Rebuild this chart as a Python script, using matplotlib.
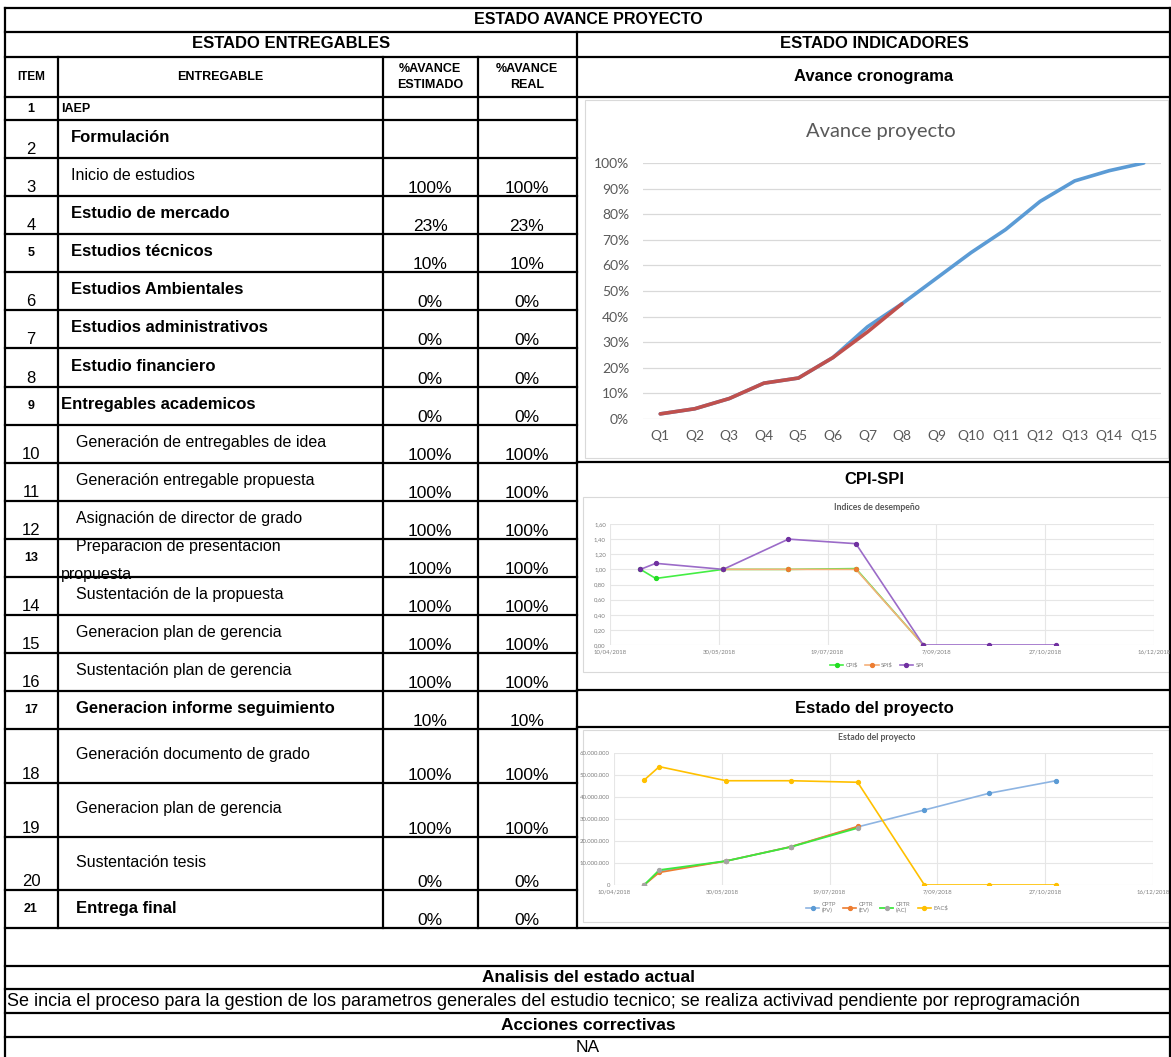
import numpy as np
import pandas as pd
import matplotlib
matplotlib.use("Agg")
import matplotlib.pyplot as plt
from matplotlib.ticker import FuncFormatter, PercentFormatter, MultipleLocator
from matplotlib.patches import Rectangle

# ---------------- data ----------------
item_nums = list(range(1, 22))
entregables = ["IAEP", "Formulación", "Inicio de estudios", "Estudio de mercado",
               "Estudios técnicos", "Estudios Ambientales", "Estudios administrativos",
               "Estudio financiero", "Entregables academicos",
               "Generación de entregables de idea", "Generación entregable propuesta",
               "Asignación de director de grado", "Preparacion de presentacion\npropuesta",
               "Sustentación de la propuesta", "Generacion plan de gerencia",
               "Sustentación plan de gerencia", "Generacion informe seguimiento",
               "Generación documento de grado", "Generacion plan de gerencia",
               "Sustentación tesis", "Entrega final"]
avance_estimado = [None, None, 100, 23, 10, 0, 0, 0, 0, 100, 100, 100, 100, 100,
                   100, 100, 10, 100, 100, 0, 0]
avance_real = [None, None, 100, 23, 10, 0, 0, 0, 0, 100, 100, 100, 100, 100,
               100, 100, 10, 100, 100, 0, 0]

# Avance proyecto (%)
quincenas = [f"Q{i}" for i in range(1, 16)]
avance_plan = [2, 4, 8, 14, 16, 24, 36, 45, 55, 65, 74, 85, 93, 97, 100]
avance_ejec = [2, 4, 8, 14, 16, 24, 34, 45]

# Indices de desempeño
fechas = pd.to_datetime(["2018-04-24", "2018-05-01", "2018-06-01", "2018-07-01",
                         "2018-08-01", "2018-09-01", "2018-10-01", "2018-11-01"])
cpi_s = [1.00, 0.88, 1.00, 1.00, 1.01, 0.00]
spi_s = [np.nan, np.nan, 1.00, 1.00, 1.00, 0.00]
spi = [1.00, 1.08, 1.00, 1.40, 1.34, 0.00, 0.00, 0.00]

# Estado del proyecto
cptp_pv = [0, 6.3e6, 10.9e6, 17.4e6, 26.4e6, 34.1e6, 41.7e6, 47.4e6]
cptr_ev = [0, 5.7e6, 10.9e6, 17.4e6, 26.6e6]
crtr_ac = [0, 6.8e6, 10.9e6, 17.3e6, 25.9e6]
eac = [47.7e6, 53.8e6, 47.4e6, 47.4e6, 46.7e6, 0, 0, 0]

analisis = ("Se incia el proceso para la gestion de los parametros generales del estudio "
            "tecnico; se realiza activivad pendiente por reprogramación")

# ---------------- layout (pixels) ----------------
W, H = 1171, 1057
row_edges = [97, 120, 158, 196, 234, 272, 310, 348, 387, 425, 463, 501, 539, 577,
             615, 653, 691, 729, 783, 837, 890, 928]
col_x = [5, 58, 383, 478, 577]
bold_rows = {1, 2, 4, 5, 6, 7, 8, 9, 17, 21}
small_nums = {1, 5, 9, 13, 17, 21}

plt.rcParams["font.family"] = ["Liberation Sans", "DejaVu Sans"]
fig = plt.figure(figsize=(W / 100, H / 100), dpi=100)
bg = fig.add_axes([0, 0, 1, 1])
bg.set_xlim(0, W)
bg.set_ylim(H, 0)
bg.axis("off")


def hline(y, x0, x1):
    bg.plot([x0, x1], [y, y], color="black", lw=1.6, solid_capstyle="projecting")


def vline(x, y0, y1):
    bg.plot([x, x], [y0, y1], color="black", lw=1.6, solid_capstyle="projecting")


for y in [8, 32, 57, 97, 928, 966, 989, 1013, 1037]:
    hline(y, 5, 1170)
for y in row_edges[1:-1]:
    hline(y, 5, 577)
for y in [462, 690, 727]:
    hline(y, 577, 1170)
vline(5, 8, 1057)
vline(1170, 8, 1057)
vline(577, 32, 928)
for x in col_x[1:4]:
    vline(x, 57, 928)

# headers
hdr = dict(ha="center", va="center", weight="bold")
bg.text(588, 20, "ESTADO AVANCE PROYECTO", fontsize=11.5, **hdr)
bg.text(291, 44, "ESTADO ENTREGABLES", fontsize=12, **hdr)
bg.text(874, 44, "ESTADO INDICADORES", fontsize=12, **hdr)
bg.text(31, 77, "ITEM", fontsize=8.5, **hdr)
bg.text(220, 77, "ENTREGABLE", fontsize=9, **hdr)
bg.text(430, 77, "%AVANCE\nESTIMADO", fontsize=9, linespacing=1.4, **hdr)
bg.text(527, 77, "%AVANCE\nREAL", fontsize=9, linespacing=1.4, **hdr)
bg.text(874, 77, "Avance cronograma", fontsize=12, **hdr)
bg.text(874, 480, "CPI-SPI", fontsize=12, **hdr)
bg.text(874, 709, "Estado del proyecto", fontsize=12, **hdr)

# rows
for i, n in enumerate(item_nums):
    top, bot = row_edges[i], row_edges[i + 1]
    mid = (top + bot) / 2
    if n in small_nums:
        bg.text(31, mid, str(n), ha="center", va="center", fontsize=9, weight="bold")
    else:
        bg.text(31, bot - 4, str(n), ha="center", va="baseline", fontsize=12)
    w = "bold" if n in bold_rows else "normal"
    fs = 12 if n in bold_rows else 11.5
    if n == 1:
        bg.text(61, mid, entregables[i], ha="left", va="center", fontsize=9, weight="bold")
    elif n == 13:
        l1, l2 = entregables[i].split("\n")
        bg.text(76, mid - 11, l1, ha="left", va="center", fontsize=11.5)
        t = bg.text(61, bot + 2, l2, ha="left", va="baseline", fontsize=11.5)
        clip = Rectangle((58, top), 325, bot - top - 1, transform=bg.transData)
        t.set_clip_path(clip)
    else:
        x = 61 if n == 9 else (71 if n <= 8 else 76)
        bg.text(x, mid - 1, entregables[i], ha="left", va="center", fontsize=fs, weight=w)
    if avance_estimado[i] is not None:
        bg.text(430, bot - 3, f"{avance_estimado[i]}%", ha="center", va="baseline", fontsize=12.5)
    if avance_real[i] is not None:
        bg.text(527, bot - 3, f"{avance_real[i]}%", ha="center", va="baseline", fontsize=12.5)

# bottom block
bg.text(588, 977, "Analisis del estado actual", fontsize=12.5, **hdr)
bg.text(7, 1001, analisis, ha="left", va="center", fontsize=13)
bg.text(588, 1025, "Acciones correctivas", fontsize=12.5, **hdr)
bg.text(588, 1047, "NA", ha="center", va="center", fontsize=12.5)

# chart frames
for (x0, y0, x1, y1) in [(585, 100, 1168, 458), (583, 497, 1170, 672), (583, 730, 1170, 922)]:
    bg.add_patch(Rectangle((x0, y0), x1 - x0, y1 - y0, fill=False, ec="#D9D9D9", lw=0.8))


def px_axes(l, t, r, b):
    return fig.add_axes([l / W, 1 - b / H, (r - l) / W, (b - t) / H])


def style(ax, size):
    for s in ax.spines.values():
        s.set_visible(False)
    ax.set_facecolor("none")
    ax.tick_params(length=0, labelsize=size, colors="#7F7F7F")
    for lab in ax.get_xticklabels() + ax.get_yticklabels():
        lab.set_family("Lato")


gray = "#595959"

# ---- chart 1: Avance proyecto ----
ax1 = px_axes(643, 163, 1161, 419)
xq = np.arange(len(quincenas))
ax1.plot(xq, avance_plan, color="#5B9BD5", lw=2.6, solid_capstyle="round")
ax1.plot(xq[:len(avance_ejec)], avance_ejec, color="#C0504D", lw=2.6, solid_capstyle="round")
ax1.set_xlim(-0.5, len(quincenas) - 0.5)
ax1.set_ylim(0, 100)
ax1.set_xticks(xq)
ax1.set_xticklabels(quincenas)
ax1.yaxis.set_major_locator(MultipleLocator(10))
ax1.yaxis.set_major_formatter(PercentFormatter(xmax=100, decimals=0))
ax1.grid(axis="y", color="#D9D9D9", lw=0.9)
ax1.set_axisbelow(True)
style(ax1, 10)
ax1.tick_params(colors=gray)
ax1.tick_params(axis="y", pad=10)
ax1.tick_params(axis="x", pad=8)
bg.text(881, 132, "Avance proyecto", ha="center", va="center", fontsize=14.5, color=gray,
        family="Lato")

# date axis helpers
x_min = pd.Timestamp("2018-04-10")
x_max = pd.Timestamp("2018-12-16")
date_ticks = pd.date_range(x_min, x_max, freq="50D")


def date_axis(ax):
    ax.set_xlim(x_min, x_max)
    ax.set_xticks(date_ticks)
    ax.set_xticklabels([f"{d.day}/{d.month:02d}/{d.year}" for d in date_ticks])
    ax.grid(color="#E6E6E6", lw=0.8)
    ax.set_axisbelow(True)


# ---- chart 2: Indices de desempeño ----
ax2 = px_axes(610, 524, 1154, 645)
ax2.plot(fechas[:len(cpi_s)], cpi_s, color="#44EE44", lw=1.2, marker="o", ms=2.8,
         mfc="#22DD22", mec="#22DD22", label="CPI$")
ax2.plot(fechas[:len(spi_s)], spi_s, color="#F5B07A", lw=1.2, marker="o", ms=2.8,
         mfc="#ED7D31", mec="#ED7D31", label="SPI$")
ax2.plot(fechas, spi, color="#9B6BC8", lw=1.2, marker="o", ms=2.8,
         mfc="#7030A0", mec="#7030A0", label="SPI")
ax2.set_ylim(0, 1.6)
ax2.yaxis.set_major_locator(MultipleLocator(0.2))
ax2.yaxis.set_major_formatter(FuncFormatter(lambda v, p: f"{v:.2f}".replace(".", ",")))
date_axis(ax2)
style(ax2, 4.3)
ax2.tick_params(pad=3)
bg.text(877, 508, "Indices de desempeño", ha="center", va="center", fontsize=6.3,
        color=gray, family="Lato", weight="bold")
fig.legend(*ax2.get_legend_handles_labels(), loc="center", ncol=3,
           bbox_to_anchor=(877 / W, 1 - 665 / H), frameon=False,
           prop={"family": "Lato", "size": 4.3}, labelcolor="#7F7F7F",
           handlelength=2.2, columnspacing=1.2, handletextpad=0.4)

# ---- chart 3: Estado del proyecto ----
ax3 = px_axes(614, 753, 1153, 885)
ax3.plot(fechas, cptp_pv, color="#8DB4E2", lw=1.2, marker="o", ms=2.8,
         mfc="#5B9BD5", mec="#5B9BD5", label="CPTP\n(PV)")
ax3.plot(fechas[:len(cptr_ev)], cptr_ev, color="#ED7D31", lw=1.2, marker="o", ms=2.8,
         mfc="#ED7D31", mec="#ED7D31", label="CPTR\n(EV)")
ax3.plot(fechas[:len(crtr_ac)], crtr_ac, color="#3DE83D", lw=1.3, marker="o", ms=2.8,
         mfc="#A5A5A5", mec="#A5A5A5", label="CRTR\n(AC)")
ax3.plot(fechas, eac, color="#FFC000", lw=1.2, marker="o", ms=2.8,
         mfc="#FFC000", mec="#FFC000", label="EAC$")
ax3.set_ylim(0, 60e6)
ax3.yaxis.set_major_locator(MultipleLocator(10e6))
ax3.yaxis.set_major_formatter(FuncFormatter(
    lambda v, p: "0" if v == 0 else f"{int(v):,}".replace(",", ".")))
date_axis(ax3)
style(ax3, 4.3)
ax3.tick_params(pad=3)
bg.text(877, 737, "Estado del proyecto", ha="center", va="center", fontsize=6.3,
        color=gray, family="Lato", weight="bold")
fig.legend(*ax3.get_legend_handles_labels(), loc="center", ncol=4,
           bbox_to_anchor=(877 / W, 1 - 908 / H), frameon=False,
           prop={"family": "Lato", "size": 4.3}, labelcolor="#7F7F7F",
           handlelength=2.2, columnspacing=1.2, handletextpad=0.4)

fig.savefig("out.png", dpi=100)
